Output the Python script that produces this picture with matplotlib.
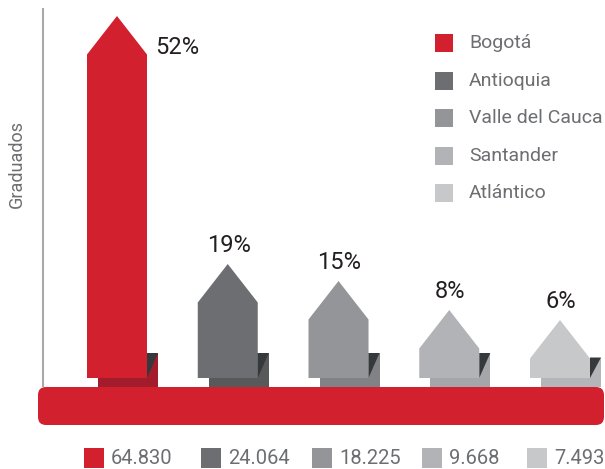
import matplotlib
matplotlib.use("Agg")
import matplotlib.pyplot as plt
from matplotlib.patches import Rectangle, Polygon, FancyBboxPatch

plt.rcParams['font.family'] = ['Roboto', 'DejaVu Sans']

# data
categories = ['Bogotá', 'Antioquia', 'Valle del Cauca', 'Santander', 'Atlántico']
percent = [52, 19, 15, 8, 6]
graduados = [64830, 24064, 18225, 9668, 7493]
# height of each house tip above the baseline (chart units)
house_top = [362, 114, 97, 68, 58]

colors = ['#d2202f', '#6d6e71', '#939598', '#b1b3b6', '#c7c8ca']
shadow_colors = ['#a31c2c', '#58595b', '#808285', '#a4a6a9', '#b3b5b8']
dark = '#35393c'
text_gray = '#6d6e71'

# layout (pixel-like units, baseline of the houses at y=0)
W, H = 605, 469
base_y = 91
x0, step = 117, 110.75
half_w = 30
roof = 38.5
bottom_slots = [84, 201, 312, 422, 527]

fig = plt.figure(figsize=(W / 100, H / 100), dpi=100)
ax = fig.add_axes([0, 0, 1, 1])
ax.set_xlim(0, W)
ax.set_ylim(-base_y, H - base_y)
ax.axis('off')

# vertical axis line
ax.plot([43, 43], [-9, 370], color='#a7a9ac', lw=1.5, solid_capstyle='butt', zorder=1)
ax.text(17, 214, 'Graduados', rotation=90, ha='center', va='center',
        fontsize=13, color=text_gray)

# houses
for i, (top, c, sc) in enumerate(zip(house_top, colors, shadow_colors)):
    cx = x0 + step * i
    shoulder = top - roof
    sh_top = min(25, shoulder + 1)
    ax.add_patch(Rectangle((cx - 19, -9), 60, sh_top + 9, color=sc, lw=0, zorder=2))
    ax.add_patch(Polygon([(cx + half_w, sh_top), (cx + half_w + 11, sh_top), (cx + half_w, 0)],
                         closed=True, color=dark, lw=0, zorder=2))
    ax.add_patch(Polygon([(cx - half_w, 0), (cx + half_w, 0), (cx + half_w, shoulder),
                          (cx, top), (cx - half_w, shoulder)],
                         closed=True, color=c, lw=0, zorder=3))
    if i == 0:
        ax.text(cx + 38, top - 31, f'{percent[i]}%', ha='left', va='center',
                fontsize=17, color='#231f20')
    else:
        ax.text(cx + 1, top + 19, f'{percent[i]}%', ha='center', va='center',
                fontsize=17, color='#231f20')

# red base bar
ax.add_patch(FancyBboxPatch((45, -40), 552, 24, boxstyle='round,pad=7,rounding_size=8',
                            color='#d2202f', lw=0, zorder=4))

# legend top right
for i, (name, c) in enumerate(zip(categories, colors)):
    y = 335 - 37.5 * i
    ax.add_patch(Rectangle((435, y - 9), 18, 18, color=c, lw=0))
    ax.text(469, y, name, ha='left', va='center', fontsize=14,
            color=text_gray)

# bottom totals
for sx, g, c in zip(bottom_slots, graduados, colors):
    ax.add_patch(Rectangle((sx, -90), 20, 20, color=c, lw=0))
    ax.text(sx + 27, -80, f'{g:,}'.replace(',', '.'), ha='left', va='center',
            fontsize=14.5, color=text_gray)

fig.savefig('out.png', dpi=100)
